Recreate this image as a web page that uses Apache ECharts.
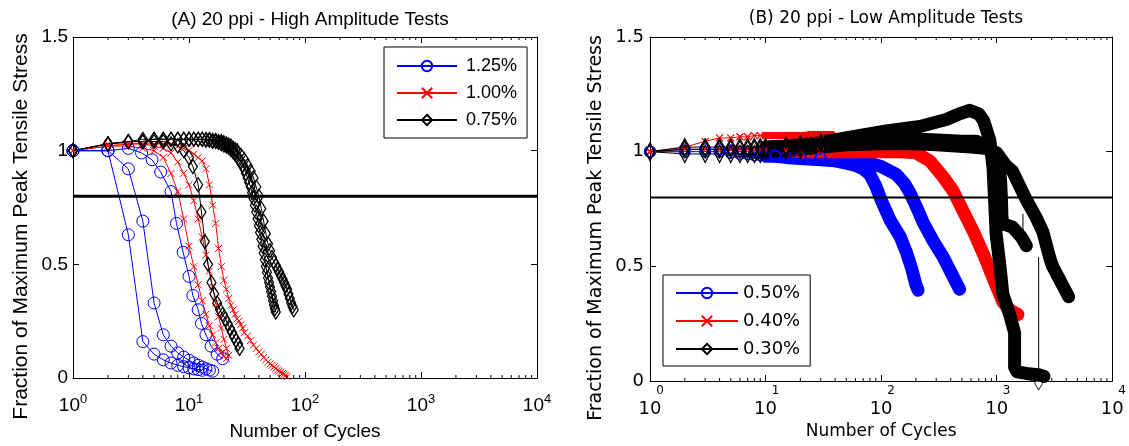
<!DOCTYPE html>
<html><head><meta charset="utf-8">
<script src="https://cdn.jsdelivr.net/npm/echarts@6/dist/echarts.min.js"></script>
<style>html,body{margin:0;padding:0;background:#fff}#c{width:1129px;height:446px}</style>
</head><body><div id="c"></div>
<script>
// ---------- shared ----------
const xRange = [1, 10000];
const yRange = [0, 1.5];
const threshold = 0.8;
const minorTicks = [2,3,4,5,6,7,8,9,20,30,40,50,60,70,80,90,200,300,400,500,600,700,800,900,2000,3000,4000,5000,6000,7000,8000,9000];
const titleA = '(A) 20 ppi - High Amplitude Tests';
const titleB = '(B) 20 ppi - Low Amplitude Tests';
const xName = 'Number of Cycles';
const yName = 'Fraction of Maximum Peak Tensile Stress';
const namesA = ['1.25%', '1.00%', '0.75%'];
const namesB = ['0.50%', '0.40%', '0.30%'];

// ---------- panel A : [cycles, fraction] ----------
const b125a = [[1,1.0],[2,1.0],[3,0.63],[4,0.16],[5,0.105],[6,0.08],[7,0.066],[8,0.056],[9,0.05],[10,0.045],[11,0.04],[12,0.037],[13,0.034]];
const b125b = [[1,1.0],[2,1.0],[3,0.92],[4,0.69],[5,0.33],[6,0.19],[7,0.14],[8,0.11],[9,0.092],[10,0.078],[11,0.066],[12,0.056],[13,0.048],[14,0.041],[15,0.035],[16,0.03]];
const b125c = [[1,1.0],[2,1.0],[3,1.01],[3.9,0.99],[4.8,0.96],[5.7,0.906],[7,0.82],[7.8,0.68],[8.9,0.553],[10,0.447],[10.8,0.363],[12,0.3],[12.8,0.24],[14,0.19],[15.5,0.14],[17.5,0.105],[19.5,0.085]];
const r100a = [[1,1.0],[2,1.02],[3,1.02],[4,1.01],[5,1.0],[6,0.97],[7,0.9],[8,0.82],[9,0.7],[10,0.58],[11,0.49],[12,0.41],[13,0.34],[14,0.28],[15,0.23],[16,0.19],[17,0.155],[18,0.13],[19,0.11],[20,0.095],[21,0.085]];
const r100b = [[1,1.0],[2,1.02],[3,1.03],[4,1.03],[5,1.02],[6,1.01],[7,0.99],[8,0.95],[9,0.9],[10,0.85],[11,0.78],[12,0.7],[13,0.62],[14,0.54],[15,0.47],[16,0.4],[17,0.33],[18,0.27],[19,0.22],[20,0.17],[21,0.13],[22,0.1]];
const r100c = [[1,1.0],[2,1.03],[3,1.03],[4,1.03],[5,1.03],[6,1.03],[7,1.03],[8,1.02],[9,1.01],[10,1.0],[11,0.985],[12,0.97],[13,0.955],[14,0.92],[15,0.85],[16,0.76],[17,0.68],[18,0.57],[19,0.49],[20,0.43],[21,0.39],[22,0.35],[23,0.32],[24,0.3],[25,0.28],[26,0.26],[27,0.25],[28,0.235],[29,0.22],[30,0.2],[32,0.185],[34,0.165],[36,0.145],[38,0.13],[40,0.115],[42,0.105],[44,0.09],[46,0.08],[48,0.07],[50,0.062],[52,0.056],[54,0.048],[56,0.042],[58,0.035],[60,0.03],[62,0.025],[64,0.02],[66,0.017],[68,0.012],[70,0.006]];
const k075a = [[1,1.0],[2,1.03],[3,1.04],[4,1.04],[5,1.04],[6,1.04],[7,1.03],[8,1.02],[9,1.0],[10,0.97],[10.8,0.93],[12,0.85],[12.8,0.73],[13.7,0.6],[14.6,0.5],[15.6,0.42],[16.5,0.37],[17.5,0.33],[18.5,0.3],[19.5,0.28],[20.5,0.26],[21.5,0.24],[22.5,0.22],[23.5,0.2],[24.5,0.18],[25.5,0.165],[26.5,0.15],[27.3,0.13]];
const k075b = [[1,1.0],[2,1.03],[3,1.04],[4,1.05],[5,1.05],[6,1.05],[7,1.05],[8,1.05],[9,1.05],[10,1.05],[11,1.05],[12,1.05],[13,1.05],[14,1.045],[15,1.045],[16,1.04],[17,1.04],[18,1.035],[19,1.03],[20,1.025],[21,1.02],[22,1.015],[23,1.005],[24,0.995],[25,0.985],[26,0.975],[27,0.96],[28,0.95],[29,0.935],[30,0.92],[31,0.9],[32,0.88],[33,0.86],[34,0.84],[35,0.815],[36,0.79],[37,0.76],[38,0.73],[39,0.7],[40,0.67],[41,0.64],[42,0.61],[43,0.58],[44,0.55],[45,0.52],[46,0.49],[47,0.465],[48,0.44],[49,0.42],[50,0.4],[51,0.38],[52,0.36],[53,0.34],[54,0.32],[55,0.305],[56,0.29]];
const k075c = [[1,1.0],[2,1.03],[3,1.04],[4,1.04],[5,1.05],[6,1.05],[7,1.05],[8,1.05],[9,1.05],[10,1.05],[11,1.05],[12,1.05],[13,1.05],[14,1.05],[15,1.05],[16,1.045],[17,1.045],[18,1.04],[19,1.04],[20,1.035],[21,1.03],[22,1.025],[23,1.02],[24,1.01],[25,1.005],[26,1.0],[28,0.98],[30,0.96],[32,0.935],[34,0.91],[36,0.88],[38,0.84],[40,0.8],[42,0.745],[44,0.69],[46,0.635],[48,0.59],[50,0.56],[52,0.53],[54,0.51],[56,0.495],[58,0.48],[60,0.465],[62,0.45],[64,0.435],[66,0.42],[68,0.405],[70,0.39],[72,0.37],[74,0.35],[76,0.33],[78,0.315],[80,0.3]];

// ---------- panel B : [cycles, fraction] ----------
const b050a = [[1,1.0],[2,1.0],[3,1.0],[4,1.0],[5,0.995],[6,0.99],[7,0.99],[8,0.985],[9,0.985],[10,0.98],[12,0.98],[15,0.975],[20,0.97],[30,0.965],[40,0.96],[50,0.95],[60,0.94],[70,0.925],[80,0.9],[90,0.85],[100,0.79],[120,0.7],[146,0.63],[166,0.56],[184,0.49],[200,0.42],[209,0.396]];
const b050b = [[1,1.0],[2,1.01],[3,1.01],[4,1.01],[5,1.005],[6,1.0],[7,1.0],[8,0.995],[9,0.995],[10,0.99],[12,0.985],[15,0.98],[20,0.975],[30,0.97],[40,0.968],[60,0.96],[80,0.95],[100,0.935],[136,0.9],[160,0.86],[178,0.82],[202,0.76],[232,0.69],[283,0.61],[345,0.54],[406,0.47],[478,0.40]];
const r040a = [[1,1.0],[2,1.02],[3,1.045],[4,1.06],[5,1.06],[6,1.065],[7,1.065],[8,1.07],[9,1.07],[10,1.07],[12,1.07],[15,1.07],[20,1.07],[25,1.075],[30,1.075],[38,1.075]];
const r040b = [[1,1.0],[2,1.01],[3,1.01],[4,1.01],[5,1.01],[6,1.01],[7,1.01],[8,1.01],[9,1.01],[10,1.01],[15,1.005],[20,1.0],[30,1.0],[50,1.0],[100,1.0],[150,1.0],[200,0.995],[264,0.96],[344,0.89],[419,0.83],[514,0.74],[631,0.65],[773,0.55],[946,0.44],[1130,0.345],[1300,0.31],[1530,0.29]];
const k030a = [[1,1.0],[2,1.02],[3,1.02],[4,1.02],[5,1.02],[6,1.02],[7,1.02],[8,1.02],[9,1.02],[10,1.02],[15,1.025],[20,1.03],[30,1.04],[57,1.065],[111,1.09],[217,1.11],[366,1.14],[478,1.165],[582,1.18],[700,1.165],[772,1.135],[873,1.05],[931,0.93],[960,0.79],[990,0.64],[1069,0.5],[1130,0.38],[1296,0.29],[1431,0.21],[1431,0.12],[1431,0.06],[1500,0.04],[1810,0.033],[2370,0.026],[2570,0.02]];
const k030b = [[1,1.0],[2,1.01],[3,1.01],[4,1.01],[5,1.01],[6,1.01],[7,1.01],[8,1.01],[9,1.01],[10,1.015],[15,1.02],[20,1.03],[30,1.035],[100,1.05],[200,1.055],[344,1.05],[500,1.045],[670,1.045],[850,1.02],[1000,0.98],[1080,0.88],[1100,0.8],[1110,0.72],[1130,0.686],[1373,0.671],[1640,0.627],[1810,0.59]];
const k030c = [[1,1.0],[2,0.99],[3,0.99],[4,0.99],[5,0.99],[6,0.99],[7,0.99],[8,0.99],[9,0.99],[10,1.0],[15,1.005],[20,1.01],[50,1.03],[100,1.035],[200,1.035],[300,1.03],[600,1.02],[800,1.015],[1000,0.995],[1069,0.975],[1200,0.94],[1373,0.915],[1580,0.85],[1810,0.79],[2213,0.71],[2513,0.65],[2870,0.54],[3050,0.5],[3440,0.45],[4200,0.367]];
const k030thin = [[1080,0.874],[1080,0.80],'-',[1690,0.729],[1690,0.57],'-',[2310,0.54],[2310,-0.01]];
const k030drop = [[2310,-0.01]];

// ---------- chart ----------
const FA = "'Liberation Sans', Arial, sans-serif";
const FB = "'DejaVu Sans', sans-serif";
const BLUE = '#0000ff', RED = '#ff0000', BLACK = '#000000';
const XSYM = 'path://M0,0L10,10M10,0L0,10';
const NONE = 'rgba(0,0,0,0)';

function gridOf(i){ return i === 0 ? {left:73, top:37, width:464, height:344} : {left:650, top:37, width:463, height:344}; }

function xAxisBottom(gi, right){
  return {
    type:'log', logBase:10, gridIndex:gi, min:xRange[0], max:xRange[1], position:'bottom',
    axisLine:{show:true, onZero:false, lineStyle:{color:BLACK, width:1}},
    axisTick:{show:true, inside:true, length:6, lineStyle:{color:BLACK}},
    splitLine:{show:false},
    axisLabel: right ? {
      show:true, margin:3, color:BLACK, showMinLabel:true, showMaxLabel:true,
      formatter: v => '{s|' + Math.round(Math.log10(v)) + '}\n{b|10}',
      rich:{ s:{fontFamily:FB, fontSize:12, lineHeight:14, padding:[0,0,0,20], color:BLACK},
             b:{fontFamily:FB, fontSize:18, lineHeight:22, color:BLACK} }
    } : {
      show:true, margin:15, color:BLACK, showMinLabel:true, showMaxLabel:true,
      formatter: v => '{b|10}{s|' + Math.round(Math.log10(v)) + '}',
      rich:{ b:{fontFamily:FA, fontSize:19, lineHeight:22, padding:[6,0,0,0], verticalAlign:'bottom', color:BLACK},
             s:{fontFamily:FA, fontSize:13, lineHeight:14, verticalAlign:'top', color:BLACK} }
    },
    name:xName, nameLocation:'middle', nameGap: right ? 41 : 44,
    nameTextStyle:{fontFamily: right ? FB : FA, fontSize: right ? 17 : 19, color:BLACK}
  };
}
function xAxisTop(gi){
  return {type:'log', logBase:10, gridIndex:gi, min:xRange[0], max:xRange[1], position:'top',
    axisLine:{show:true, onZero:false, lineStyle:{color:BLACK}},
    axisTick:{show:true, inside:true, length:6, lineStyle:{color:BLACK}},
    axisLabel:{show:false}, splitLine:{show:false}};
}
function yAxisLeft(gi, right){
  return {type:'value', gridIndex:gi, min:yRange[0], max:yRange[1], interval:0.5, position:'left',
    axisLine:{show:true, onZero:false, lineStyle:{color:BLACK}},
    axisTick:{show:true, inside:true, length:6, lineStyle:{color:BLACK}},
    splitLine:{show:false},
    axisLabel:{fontFamily: right ? FB : FA, fontSize: right ? 18 : 19, color:BLACK, margin: right ? 6 : 5},
    name:yName, nameLocation:'middle', nameRotate:90, nameGap: right ? 44 : 41,
    nameTextStyle:{fontFamily: right ? FB : FA, fontSize: right ? 19 : 21, color:BLACK, padding:[0,38,0,0]}};
}
function yAxisRight(gi){
  return {type:'value', gridIndex:gi, min:yRange[0], max:yRange[1], interval:0.5, position:'right',
    axisLine:{show:true, onZero:false, lineStyle:{color:BLACK}},
    axisTick:{show:true, inside:true, length:6, lineStyle:{color:BLACK}},
    axisLabel:{show:false}, splitLine:{show:false}};
}

function markerLine(name, data, color, sym, size, xi, yi, lw){
  return {type:'line', name, data, xAxisIndex:xi, yAxisIndex:yi, symbol:sym, symbolSize:size,
    showSymbol:true, showAllSymbol:true, clip:false, silent:true, animation:false,
    itemStyle:{color:NONE, borderColor:color, borderWidth:lw || 1},
    lineStyle:{color, width:1}, emphasis:{disabled:true}};
}
function band(name, data, color, xi, yi, w){
  return {type:'line', name, data, xAxisIndex:xi, yAxisIndex:yi, symbol:'none', showSymbol:false,
    clip:true, silent:true, animation:false, connectNulls:false,
    lineStyle:{color, width:w, cap:'round', join:'round'}, itemStyle:{color}, emphasis:{disabled:true}};
}
const early = d => d.filter(p => p[0] <= 30);
const late = d => d.filter(p => p[0] >= 10);

function tickRenderer(len){
  return function(params, api){
    const v = api.value(0);
    const b = api.coord([v, yRange[0]]);
    const t = api.coord([v, yRange[1]]);
    return {type:'group', children:[
      {type:'line', shape:{x1:b[0], y1:b[1], x2:b[0], y2:b[1]-len}, style:{stroke:BLACK, lineWidth:1}},
      {type:'line', shape:{x1:t[0], y1:t[1], x2:t[0], y2:t[1]+len}, style:{stroke:BLACK, lineWidth:1}}
    ]};
  };
}

const series = [];
// Panel A
[b125a, b125b, b125c].forEach(d => series.push(markerLine(namesA[0], d, BLUE, 'circle', 12, 0, 0)));
[r100a, r100b, r100c].forEach(d => series.push(markerLine(namesA[1], d, RED, XSYM, 7, 0, 0)));
[k075a, k075b, k075c].forEach(d => series.push(markerLine(namesA[2], d, BLACK, 'diamond', [9,14], 0, 0, 1.3)));
series.push({type:'line', name:'thrA', data:[[xRange[0],threshold],[xRange[1],threshold]], xAxisIndex:0, yAxisIndex:0,
  symbol:'none', silent:true, animation:false, lineStyle:{color:BLACK, width:3}, z:5});
// Panel B
[b050a, b050b].forEach(d => series.push(markerLine(namesB[0], early(d), BLUE, 'circle', 11, 2, 2, 1.3)));
[b050a, b050b].forEach(d => series.push(band(namesB[0], late(d), BLUE, 2, 2, 13)));
[r040a, r040b].forEach(d => series.push(markerLine(namesB[1], early(d), RED, XSYM, 7, 2, 2, 1.3)));
series.push(band(namesB[1], late(r040a), RED, 2, 2, 7));
series.push(band(namesB[1], late(r040b), RED, 2, 2, 13));
[k030a, k030b, k030c].forEach(d => series.push(markerLine(namesB[2], early(d), BLACK, 'diamond', [9,17], 2, 2, 1.3)));
[k030a, k030b, k030c].forEach(d => series.push(band(namesB[2], late(d), BLACK, 2, 2, 13)));
series.push({type:'line', name:'thinB', data:k030thin, xAxisIndex:2, yAxisIndex:2, symbol:'none', connectNulls:false,
  silent:true, animation:false, lineStyle:{color:BLACK, width:1}});
series.push({type:'scatter', name:'dropB', data:k030drop, xAxisIndex:2, yAxisIndex:2, symbol:'diamond', symbolSize:[8,13],
  clip:false, silent:true, animation:false, itemStyle:{color:'#fff', borderColor:BLACK, borderWidth:1}});
series.push({type:'line', name:'thrB', data:[[xRange[0],threshold],[xRange[1],threshold]], xAxisIndex:2, yAxisIndex:2,
  symbol:'none', silent:true, animation:false, lineStyle:{color:BLACK, width:2}, z:5});
// minor ticks
series.push({type:'custom', name:'mtA', data:minorTicks.map(v => [v, 0]), xAxisIndex:0, yAxisIndex:0, renderItem:tickRenderer(3), silent:true, animation:false, z:6});
series.push({type:'custom', name:'mtB', data:minorTicks.map(v => [v, 0]), xAxisIndex:2, yAxisIndex:2, renderItem:tickRenderer(3), silent:true, animation:false, z:6});

const option = {
  backgroundColor:'#fff',
  animation:false,
  title:[
    {text:titleA, left:305, top:5, textAlign:'center', textStyle:{fontFamily:FA, fontSize:19, fontWeight:'normal', color:BLACK}},
    {text:titleB, left:881, top:5, textAlign:'center', textStyle:{fontFamily:FB, fontSize:17, fontWeight:'normal', color:BLACK}}
  ],
  grid:[gridOf(0), gridOf(1)],
  xAxis:[xAxisBottom(0,false), xAxisTop(0), xAxisBottom(1,true), xAxisTop(1)],
  yAxis:[yAxisLeft(0,false), yAxisRight(0), yAxisLeft(1,true), yAxisRight(1)],
  legend:[
    {data:namesA, orient:'vertical', left:384, top:47, padding:[9,10,8,12], itemWidth:60, itemHeight:13, itemGap:7,
     borderColor:BLACK, borderWidth:1, backgroundColor:'#fff', selectedMode:false,
     textStyle:{fontFamily:FA, fontSize:18, color:BLACK, lineHeight:20, padding:[0,0,0,4]}},
    {data:namesB, orient:'vertical', left:663, top:275, padding:[8,10,7,12], itemWidth:62, itemHeight:13, itemGap:8,
     borderColor:BLACK, borderWidth:1, backgroundColor:'#fff', selectedMode:false,
     textStyle:{fontFamily:FB, fontSize:18, color:BLACK, lineHeight:20, padding:[0,0,0,0]}}
  ],
  series
};
const chart = echarts.init(document.getElementById('c'));
chart.setOption(option);
</script>
</body></html>
